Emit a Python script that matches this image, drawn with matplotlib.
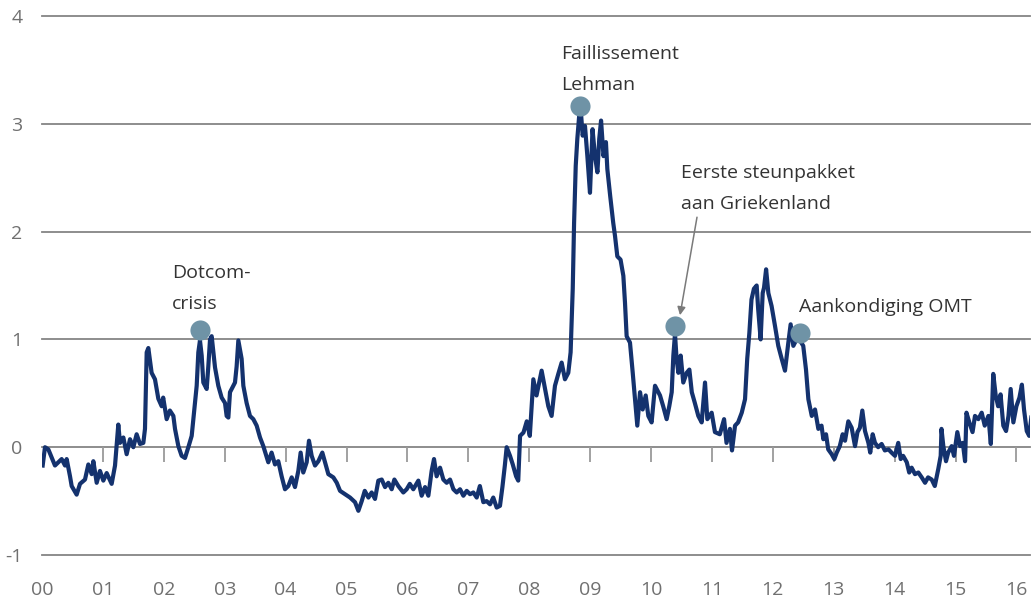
import matplotlib
matplotlib.use("Agg")
import matplotlib.pyplot as plt

plt.rcParams['font.family'] = ['Open Sans', 'DejaVu Sans']

# ---------------- data (years since 2000, index value) ----------------
years_2000_2003 = [0.011, 0.049, 0.104, 0.213, 0.323, 0.378, 0.405, 0.46, 0.487, 0.569,
                   0.624, 0.706, 0.761, 0.816, 0.843, 0.898, 0.952, 1.007, 1.062, 1.144,
                   1.199, 1.253, 1.281, 1.336, 1.39, 1.445, 1.50, 1.554, 1.609, 1.664,
                   1.691, 1.719, 1.746, 1.80, 1.855, 1.91, 1.965, 1.99, 2.047, 2.10,
                   2.157, 2.184, 2.239, 2.293, 2.348, 2.403, 2.458, 2.512, 2.54, 2.567,
                   2.594, 2.622, 2.649, 2.704, 2.731, 2.759, 2.786, 2.841, 2.895, 2.95,
                   3.005, 3.032, 3.06, 3.087, 3.169, 3.196, 3.224, 3.278, 3.306, 3.36,
                   3.415, 3.47, 3.525, 3.58, 3.634, 3.716]
values_2000_2003 = [-0.17, 0.00, -0.02, -0.17, -0.11, -0.17, -0.11, -0.27, -0.36, -0.44,
                    -0.34, -0.30, -0.16, -0.25, -0.13, -0.33, -0.22, -0.31, -0.24, -0.34,
                    -0.17, 0.21, 0.04, 0.09, -0.065, 0.074, 0.0, 0.12, 0.03, 0.04,
                    0.17, 0.88, 0.92, 0.69, 0.63, 0.45, 0.38, 0.46, 0.26, 0.34,
                    0.29, 0.17, 0.01, -0.08, -0.10, 0.0, 0.105, 0.41, 0.57, 0.88,
                    0.99, 0.85, 0.60, 0.54, 0.75, 1.00, 1.03, 0.74, 0.57, 0.46,
                    0.41, 0.29, 0.275, 0.51, 0.60, 0.75, 0.99, 0.82, 0.57, 0.41,
                    0.29, 0.26, 0.20, 0.09, 0.01, -0.14]

years_2003_2007 = [3.77, 3.826, 3.88, 3.935, 3.99, 4.045, 4.10, 4.154, 4.209, 4.247,
                   4.29, 4.346, 4.384, 4.428, 4.483, 4.538, 4.603, 4.647, 4.702, 4.784,
                   4.84, 4.894, 4.976, 5.058, 5.14, 5.195, 5.25, 5.30, 5.36, 5.413,
                   5.468, 5.523, 5.578, 5.633, 5.687, 5.742, 5.786, 5.85, 5.933, 5.988,
                   6.04, 6.097, 6.18, 6.234, 6.29, 6.344, 6.398, 6.437, 6.48, 6.536,
                   6.59, 6.645, 6.70, 6.755, 6.81, 6.864, 6.919, 6.974, 7.028, 7.083,
                   7.138, 7.19, 7.247, 7.30, 7.357, 7.41, 7.466, 7.52, 7.56, 7.60,
                   7.63, 7.685, 7.73, 7.785, 7.82, 7.85, 7.906, 7.96]
values_2003_2007 = [-0.05, -0.16, -0.13, -0.27, -0.39, -0.36, -0.28, -0.37, -0.22, -0.05,
                    -0.235, -0.14, 0.06, -0.08, -0.17, -0.13, -0.05, -0.14, -0.25, -0.28,
                    -0.33, -0.405, -0.436, -0.467, -0.51, -0.59, -0.50, -0.405, -0.467, -0.42,
                    -0.48, -0.31, -0.30, -0.37, -0.33, -0.39, -0.30, -0.36, -0.42, -0.39,
                    -0.34, -0.39, -0.31, -0.45, -0.37, -0.45, -0.22, -0.11, -0.27, -0.19,
                    -0.30, -0.33, -0.30, -0.39, -0.42, -0.39, -0.45, -0.405, -0.436, -0.42,
                    -0.467, -0.36, -0.51, -0.50, -0.53, -0.467, -0.56, -0.544, -0.37, -0.17,
                    0.0, -0.08, -0.16, -0.27, -0.31, 0.105, 0.136, 0.24]

years_2008_2010 = [8.01, 8.068, 8.12, 8.204, 8.26, 8.314, 8.368, 8.423, 8.478, 8.533,
                   8.587, 8.642, 8.68, 8.715, 8.737, 8.764, 8.79, 8.823, 8.845, 8.878,
                   8.916, 8.955, 8.998, 9.04, 9.08, 9.12, 9.15, 9.18, 9.22, 9.26,
                   9.283, 9.33, 9.38, 9.409, 9.447, 9.50, 9.546, 9.573, 9.60, 9.655,
                   9.70, 9.737, 9.775, 9.82, 9.863, 9.913, 9.956, 10.01, 10.066]
values_2008_2010 = [0.105, 0.63, 0.48, 0.71, 0.54, 0.38, 0.29, 0.57, 0.68, 0.785,
                    0.63, 0.69, 0.88, 1.47, 2.08, 2.61, 2.86, 3.09, 3.14, 2.89,
                    2.98, 2.70, 2.36, 2.95, 2.70, 2.55, 2.86, 3.03, 2.70, 2.83,
                    2.58, 2.33, 2.08, 1.96, 1.77, 1.74, 1.59, 1.34, 1.03, 0.97,
                    0.69, 0.445, 0.20, 0.51, 0.35, 0.48, 0.29, 0.23, 0.57]

years_2010_2012 = [10.148, 10.2, 10.257, 10.30, 10.34, 10.367, 10.394, 10.42, 10.45, 10.487,
                   10.53, 10.586, 10.63, 10.67, 10.72, 10.777, 10.832, 10.887, 10.925, 10.996,
                   11.05, 11.13, 11.2, 11.24, 11.296, 11.33, 11.38, 11.43, 11.49, 11.544,
                   11.58, 11.615, 11.65, 11.69, 11.735, 11.76, 11.8, 11.834, 11.856, 11.89,
                   11.927, 11.98, 12.036, 12.09, 12.146, 12.2, 12.255, 12.293, 12.337, 12.39,
                   12.446, 12.5, 12.545, 12.584, 12.64, 12.693, 12.748, 12.8]
values_2010_2012 = [0.48, 0.38, 0.26, 0.38, 0.51, 0.85, 1.05, 0.82, 0.69, 0.85,
                    0.60, 0.69, 0.72, 0.51, 0.41, 0.29, 0.23, 0.60, 0.26, 0.32,
                    0.14, 0.12, 0.26, 0.04, 0.17, -0.03, 0.20, 0.23, 0.32, 0.445,
                    0.82, 1.06, 1.37, 1.47, 1.50, 1.28, 1.00, 1.43, 1.48, 1.65,
                    1.43, 1.31, 1.125, 0.94, 0.82, 0.71, 0.97, 1.14, 0.94, 1.00,
                    0.99, 0.94, 0.72, 0.445, 0.29, 0.35, 0.17, 0.20]

years_2012_2016 = [12.83, 12.874, 12.91, 12.967, 13.01, 13.05, 13.1, 13.147, 13.186, 13.24,
                   13.295, 13.35, 13.39, 13.43, 13.47, 13.514, 13.57, 13.6, 13.64, 13.678,
                   13.73, 13.787, 13.84, 13.9, 13.95, 14.006, 14.06, 14.1, 14.14, 14.2,
                   14.24, 14.28, 14.335, 14.39, 14.445, 14.5, 14.55, 14.609, 14.66, 14.718,
                   14.757, 14.77, 14.8, 14.844, 14.88, 14.937, 14.975, 15.03, 15.075, 15.12,
                   15.157, 15.18, 15.227, 15.28, 15.32, 15.375, 15.43, 15.48, 15.54, 15.58,
                   15.62, 15.66, 15.7, 15.74, 15.785, 15.83, 15.87, 15.906, 15.95, 16.0,
                   16.05, 16.09, 16.125, 16.17, 16.21, 16.245]
values_2012_2016 = [0.074, 0.12, -0.02, -0.065, -0.11, -0.05, 0.01, 0.12, 0.06, 0.24,
                    0.18, 0.01, 0.14, 0.18, 0.34, 0.15, 0.04, -0.05, 0.12, 0.04,
                    0.0, 0.03, -0.03, -0.02, -0.05, -0.08, 0.04, -0.11, -0.08, -0.14,
                    -0.235, -0.19, -0.25, -0.235, -0.28, -0.33, -0.28, -0.30, -0.36, -0.20,
                    -0.08, 0.17, 0.01, -0.13, -0.05, 0.01, -0.08, 0.14, 0.01, 0.04,
                    -0.13, 0.32, 0.23, 0.14, 0.29, 0.26, 0.32, 0.20, 0.29, 0.03,
                    0.68, 0.48, 0.38, 0.49, 0.20, 0.15, 0.29, 0.54, 0.23, 0.38,
                    0.46, 0.58, 0.35, 0.15, 0.105, 0.275]

event_years = [2.594, 8.834, 10.394, 12.447]
event_values = [1.085, 3.163, 1.12, 1.06]
event_labels = [["Dotcom-", "crisis"],
                ["Faillissement", "Lehman"],
                ["Eerste steunpakket", "aan Griekenland"],
                ["Aankondiging OMT"]]

y_ticks = [-1, 0, 1, 2, 3, 4]
x_tick_years = list(range(2000, 2017))
x_tick_labels = ["00", "01", "02", "03", "04", "05", "06", "07", "08",
                 "09", "10", "11", "12", "13", "14", "15", "16"]

# ---------------- figure ----------------
years = (years_2000_2003 + years_2003_2007 + years_2008_2010 +
         years_2010_2012 + years_2012_2016)
values = (values_2000_2003 + values_2003_2007 + values_2008_2010 +
          values_2010_2012 + values_2012_2016)
dates = [2000 + t for t in years]

W, H = 1032, 601
fig = plt.figure(figsize=(W / 100, H / 100), dpi=100)
ax = fig.add_axes([42 / W, (H - 555) / H, 988 / W, 539 / H])
ax.set_xlim(2000, 2000 + 988 / 60.9)
ax.set_ylim(-1, 4)
for s in ax.spines.values():
    s.set_visible(False)

grid_col = '#858585'
for yv in y_ticks:
    ax.axhline(yv, color=grid_col, lw=1.3, clip_on=False, zorder=1)
# year tick marks hanging below the zero line
tick_len = 15 / 107.8
ax.vlines(x_tick_years[1:], -tick_len, 0, color='#9a9a9a', lw=1.3, zorder=1)

ax.plot(dates, values, color='#14326e', lw=3.0, solid_joinstyle='round', zorder=3)

ax.scatter([2000 + t for t in event_years], event_values, s=14.5 ** 2,
           color='#6f93a6', zorder=4, linewidths=0)

# labels
label_pos = [(172, 279), (561, 60), (681, 179), (799, 313)]
for (px, py), lines in zip(label_pos, event_labels):
    x = 2000 + (px - 42) / 60.9
    for i, line in enumerate(lines):
        y = (448 - (py + 31 * i)) / 107.8
        ax.text(x, y, line, fontsize=14, color='#333333', ha='left', va='baseline', zorder=5)

ax.annotate("", xy=(2000 + (680 - 42) / 60.9, (448 - 316) / 107.8),
            xytext=(2000 + (697 - 42) / 60.9, (448 - 218) / 107.8),
            arrowprops=dict(arrowstyle='-|>', color='#7a7a7a', lw=1.1,
                            mutation_scale=12, shrinkA=0, shrinkB=0), zorder=5)

ax.set_yticks(y_ticks)
ax.set_yticklabels([str(v) for v in y_ticks])
ax.set_xticks(x_tick_years)
ax.set_xticklabels(x_tick_labels)
ax.tick_params(axis='y', length=0, pad=14, labelsize=14, labelcolor='#707070')
ax.tick_params(axis='x', length=0, pad=19, labelsize=14, labelcolor='#707070')

fig.savefig("out.png", dpi=100)
